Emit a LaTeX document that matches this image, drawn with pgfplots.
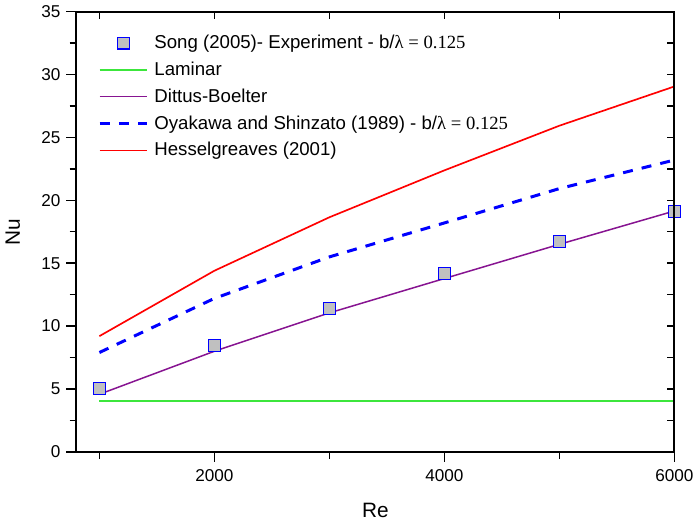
\documentclass[border=0pt]{standalone}
\usepackage{fontspec}
\setmainfont{Liberation Sans}
\newfontfamily\serif{Liberation Serif}
\usepackage{pgfplots}
\pgfplotsset{compat=1.18}
\definecolor{lamgreen}{RGB}{60,230,60}
\definecolor{dbpurple}{RGB}{135,20,145}
\definecolor{mkgray}{RGB}{192,192,192}
\begin{document}
\begin{tikzpicture}
\begin{axis}[
  scale only axis, width=359.4pt, height=264.6pt,
  xmin=800, xmax=6000, ymin=0, ymax=35,
  xtick={2000,4000,6000}, minor xtick={1000,3000,5000},
  ytick={0,5,...,35}, minor ytick={2.5,7.5,...,32.5},
  xtick pos=bottom, ytick pos=left, tick align=outside,
  major tick length=6pt, minor tick length=4pt,
  axis line style={line width=1.1pt},
  every tick/.style={black, line width=0.9pt},
  scaled x ticks=false,
  xticklabel style={/pgf/number format/1000 sep={}, yshift=-1pt},
  /pgf/number format/assume math mode=true,
  tick label style={font=\fontsize{10.3}{12}\selectfont},
  xlabel={Re}, ylabel={Nu},
  label style={font=\fontsize{12.5}{14}\selectfont},
  xlabel style={yshift=-6pt},
  ylabel style={yshift=6pt},
  legend style={draw=none, fill=none, at={(0.036,0.955)}, anchor=north west,
    font=\fontsize{11.2}{13}\selectfont, row sep=2.5pt, column sep=1.5pt, inner sep=0pt},
  legend cell align=left,
  legend image code/.code={\draw[mark repeat=2,mark phase=2,#1] plot coordinates {(0cm,0cm) (0.5cm,0cm) (1cm,0cm)};},
]
\addplot[only marks, mark=square*, mark size=3.6pt, mark options={fill=mkgray, draw=blue, line width=0.7pt}]
  coordinates {(1000,5.06) (2000,8.47) (3000,11.43) (4000,14.18) (5000,16.75) (6000,19.1)};
\addlegendentry{Song (2005)- Experiment - b/{\serif λ = 0.125}}
\addplot[color=lamgreen, line width=1.1pt, mark=none]
  coordinates {(1000,4.05) (6000,4.05)};
\addlegendentry{Laminar}
\addplot[color=dbpurple, line width=0.9pt, mark=none]
  coordinates {(1000,4.58) (2000,8.0) (3000,11.05) (4000,13.78) (5000,16.5) (6000,19.15)};
\addlegendentry{Dittus-Boelter}
\addplot[color=blue, line width=1.8pt, dash pattern=on 6pt off 5.5pt, mark=none]
  coordinates {(1000,7.9) (2000,12.2) (3000,15.5) (4000,18.2) (5000,20.93) (6000,23.2)};
\addlegendentry{Oyakawa and Shinzato (1989) - b/{\serif λ = 0.125}}
\addplot[color=red, line width=1pt, mark=none]
  coordinates {(1000,9.2) (2000,14.4) (3000,18.65) (4000,22.38) (5000,25.93) (6000,29.05)};
\addlegendentry{Hesselgreaves (2001)}
\end{axis}
\begin{axis}[
  scale only axis, width=359.4pt, height=264.6pt,
  xmin=800, xmax=6000, ymin=0, ymax=35,
  xtick={1000,2000,...,6000}, ytick={0,5,...,35}, minor ytick={2.5,7.5,...,32.5},
  xtick pos=top, ytick pos=right, tick align=inside,
  xticklabels={}, yticklabels={},
  major tick length=4.5pt, minor tick length=4.5pt,
  axis line style={line width=1.1pt},
  every tick/.style={black, line width=0.9pt},
]
\end{axis}
\end{tikzpicture}
\end{document}
